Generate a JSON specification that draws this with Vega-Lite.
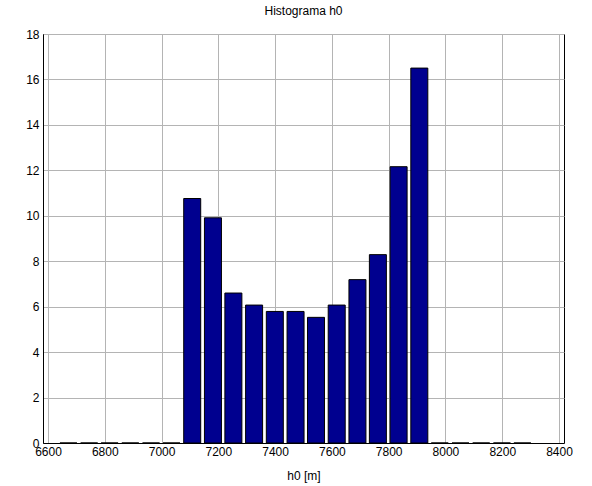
{
  "$schema": "https://vega.github.io/schema/vega-lite/v6.json",
  "autosize": "none",
  "width": 521,
  "height": 409,
  "padding": {"left": 43, "top": 34, "right": 28, "bottom": 43},
  "background": "white",
  "title": {"text": "Histograma h0", "fontSize": 12, "fontWeight": "normal", "font": "Liberation Sans", "color": "black", "offset": 10, "anchor": "middle"},
  "config": {
    "view": {"stroke": "black", "strokeWidth": 1},
    "font": "Liberation Sans"
  },
  "data": {"values": [
    {"h0": 6672, "count": 0},
    {"h0": 6745, "count": 0},
    {"h0": 6817, "count": 0},
    {"h0": 6890, "count": 0},
    {"h0": 6963, "count": 0},
    {"h0": 7035, "count": 0},
    {"h0": 7108, "count": 10.76},
    {"h0": 7181, "count": 9.91},
    {"h0": 7253, "count": 6.6},
    {"h0": 7326, "count": 6.07},
    {"h0": 7399, "count": 5.79},
    {"h0": 7472, "count": 5.79},
    {"h0": 7544, "count": 5.53},
    {"h0": 7617, "count": 6.07},
    {"h0": 7690, "count": 7.19},
    {"h0": 7762, "count": 8.29},
    {"h0": 7835, "count": 12.16},
    {"h0": 7908, "count": 16.5},
    {"h0": 7980, "count": 0},
    {"h0": 8053, "count": 0},
    {"h0": 8126, "count": 0},
    {"h0": 8199, "count": 0},
    {"h0": 8271, "count": 0}
  ]},
  "mark": {"type": "bar", "size": 17, "color": "#00008f", "stroke": "black", "strokeWidth": 1},
  "encoding": {
    "x": {
      "field": "h0", "type": "quantitative",
      "scale": {"domain": [6600, 8400], "nice": false, "zero": false},
      "axis": {
        "values": [6600, 6800, 7000, 7200, 7400, 7600, 7800, 8000, 8200, 8400],
        "format": "d",
        "title": "h0 [m]", "titleFontSize": 12, "titleFontWeight": "normal", "titleColor": "black", "titlePadding": 13,
        "labelFontSize": 12, "labelColor": "black", "labelPadding": 3, "labelFlush": false,
        "ticks": false, "domainColor": "black",
        "grid": true, "gridColor": "#b4b4b4", "gridWidth": 1
      }
    },
    "y": {
      "field": "count", "type": "quantitative",
      "scale": {"domain": [0, 18], "nice": false},
      "axis": {
        "values": [0, 2, 4, 6, 8, 10, 12, 14, 16, 18],
        "title": null,
        "labelFontSize": 12, "labelColor": "black", "labelPadding": 4,
        "ticks": false, "domainColor": "black",
        "grid": true, "gridColor": "#b4b4b4", "gridWidth": 1
      }
    }
  }
}
